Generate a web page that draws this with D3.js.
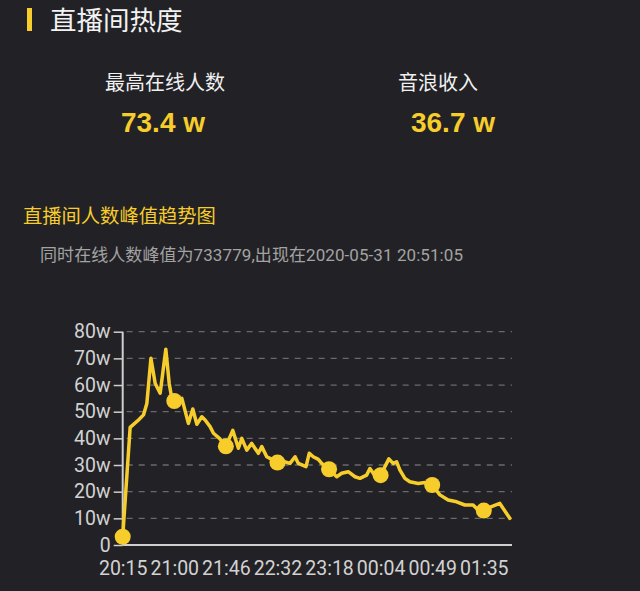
<!DOCTYPE html>
<html><head><meta charset="utf-8">
<script src="https://cdn.jsdelivr.net/npm/d3@7"></script>
<style>
html,body{margin:0;padding:0;background:#222226;}
svg{display:block;}
</style></head>
<body>
<svg id="chart" width="640" height="591"></svg>
<script>
// ---- data ----
const title = "直播间热度";
const statLabels = ["最高在线人数", "音浪收入"];
const statValues = ["73.4 w", "36.7 w"];
const chartTitle = "直播间人数峰值趋势图";
const chartSubtitle = "同时在线人数峰值为733779,出现在2020-05-31 20:51:05";
// minutes since 20:15
const minutes = [0, 6.6, 14, 18.4, 21.4, 25, 28.8, 33.2, 38.2, 41.2, 43.5, 45.7, 52.4, 58.2, 62.1, 65.7, 70.1, 73, 77.4,
  80.4, 85.7, 91.4, 97.5, 102.5, 105.5, 109.9, 114.3, 120.2, 123.2, 127.6, 130.5, 137.1, 143.8, 148.2, 152.7, 155.6,
  162.4, 165.3, 168.8, 173.3, 176.3, 182.8, 189.6, 194, 199.8, 205.8, 210.2, 216.1, 219, 222.6, 228.5, 235.8, 239.6,
  242.7, 245.6, 250, 254.4, 261.8, 267.7, 274.2, 281, 288.3, 295.8, 303.1, 310.4, 314.9, 319.9, 326.7, 334.1, 342.9];
const viewers = [3.1, 44.1, 46.9, 48.8, 53.1, 70, 60.6, 56.9, 73.4, 60.6, 55, 54, 55, 45.6, 51, 45.3, 48.1, 46.9, 44.4,
  41.9, 40, 37, 43, 36.3, 40, 35.6, 38.1, 34.4, 36.9, 33.1, 32.5, 30.9, 31.2, 30.6, 33.1, 30.6,
  29.4, 34.4, 33.1, 32.1, 30.6, 28.4, 25.6, 26.9, 27.5, 25.6, 25, 26.2, 28.7, 26.5, 26.2, 32.3, 30.6,
  31.2, 28.1, 25, 23.7, 23.1, 23.4, 22.5, 18.8, 16.9, 16.2, 15, 15, 13.1, 12.9, 14.4, 15.6, 10];
const xTickMinutes = [0, 45.7, 91.4, 137.1, 182.8, 228.5, 274.2, 319.9];
const xTickLabels = ["20:15", "21:00", "21:46", "22:32", "23:18", "00:04", "00:49", "01:35"];
const markerValues = [3.1, 54, 37, 30.9, 28.4, 26.2, 22.5, 12.9];
const yTicks = [0, 10, 20, 30, 40, 50, 60, 70, 80];

// ---- drawing ----
const svg = d3.select("#chart");
const YEL = "#f7cd2b";
const cjk = "'Noto Sans CJK SC', 'Noto Sans', sans-serif";
const num = "Roboto, 'Noto Sans', sans-serif";

svg.append("rect").attr("width", 640).attr("height", 591).attr("fill", "#222226");

// header
svg.append("rect").attr("x", 27).attr("y", 8).attr("width", 5).attr("height", 23).attr("fill", YEL);
svg.append("text").attr("x", 50).attr("y", 30).text(title)
  .attr("fill", "#f2f2f2").attr("font-size", 26.5).attr("font-family", cjk);

const statX = [165, 438];
const valX = [163, 453];
statLabels.forEach((s, i) => {
  svg.append("text").attr("x", statX[i]).attr("y", 90).attr("text-anchor", "middle").text(s)
    .attr("fill", "#f0f0f0").attr("font-size", 20).attr("font-family", cjk);
  svg.append("text").attr("x", valX[i]).attr("y", 132).attr("text-anchor", "middle").text(statValues[i])
    .attr("fill", YEL).attr("font-size", 28).attr("font-weight", "bold").attr("font-family", "Arial, 'Liberation Sans', sans-serif");
});

svg.append("text").attr("x", 23).attr("y", 223).text(chartTitle)
  .attr("fill", YEL).attr("font-size", 19.3).attr("font-family", cjk);
svg.append("text").attr("x", 40).attr("y", 261).text(chartSubtitle)
  .attr("fill", "#a3a3a3").attr("font-size", 17).attr("font-family", "Roboto, " + cjk).attr("textLength", 423);

// chart
const x = d3.scaleLinear().domain([0, 319.9]).range([122.7, 483.8]);
const y = d3.scaleLinear().domain([0, 80]).range([545, 331.7]);

// gridlines
const g = svg.append("g");
g.selectAll("line.grid").data(yTicks.filter(d => d > 0)).enter().append("line")
  .attr("x1", x(0) + 4).attr("x2", 512).attr("y1", d => y(d)).attr("y2", d => y(d))
  .attr("stroke", "#6a6a6e").attr("stroke-width", 1.3).attr("stroke-dasharray", "6,6");

// y axis
const yAxis = d3.axisLeft(y).tickValues(yTicks).tickFormat(d => d === 0 ? "0" : d + "w").tickSize(9).tickPadding(3);
const ya = svg.append("g").attr("transform", `translate(${x(0)},0)`).call(yAxis);
ya.select(".domain").attr("stroke", "#cfcfcf").attr("stroke-width", 2).attr("d", `M0,${y(0)}V${y(80)}`);
ya.selectAll(".tick line").attr("stroke", "#cfcfcf").attr("stroke-width", 1.5);
ya.selectAll(".tick text").attr("fill", "#d2d2d2").attr("font-size", 19.5).attr("font-family", num);

// x axis
const xAxis = d3.axisBottom(x).tickValues(xTickMinutes).tickFormat((d, i) => xTickLabels[i]).tickSize(0).tickPadding(16);
const xa = svg.append("g").attr("transform", `translate(0,${y(0)})`).call(xAxis);
xa.select(".domain").attr("stroke", "#cfcfcf").attr("stroke-width", 2).attr("d", `M${x(0)},0H512`);
xa.selectAll(".tick text").attr("fill", "#d2d2d2").attr("font-size", 19.5).attr("font-family", num);

// line
const pts = minutes.map((m, i) => [m, viewers[i]]);
const line = d3.line().x(d => x(d[0])).y(d => y(d[1]));
svg.append("path").datum(pts).attr("d", line).attr("fill", "none")
  .attr("stroke", YEL).attr("stroke-width", 3.5).attr("stroke-linejoin", "round").attr("stroke-linecap", "round");

// markers
svg.selectAll("circle.m").data(xTickMinutes).enter().append("circle")
  .attr("cx", d => x(d)).attr("cy", (d, i) => y(markerValues[i])).attr("r", 8).attr("fill", YEL);
</script>
</body></html>
